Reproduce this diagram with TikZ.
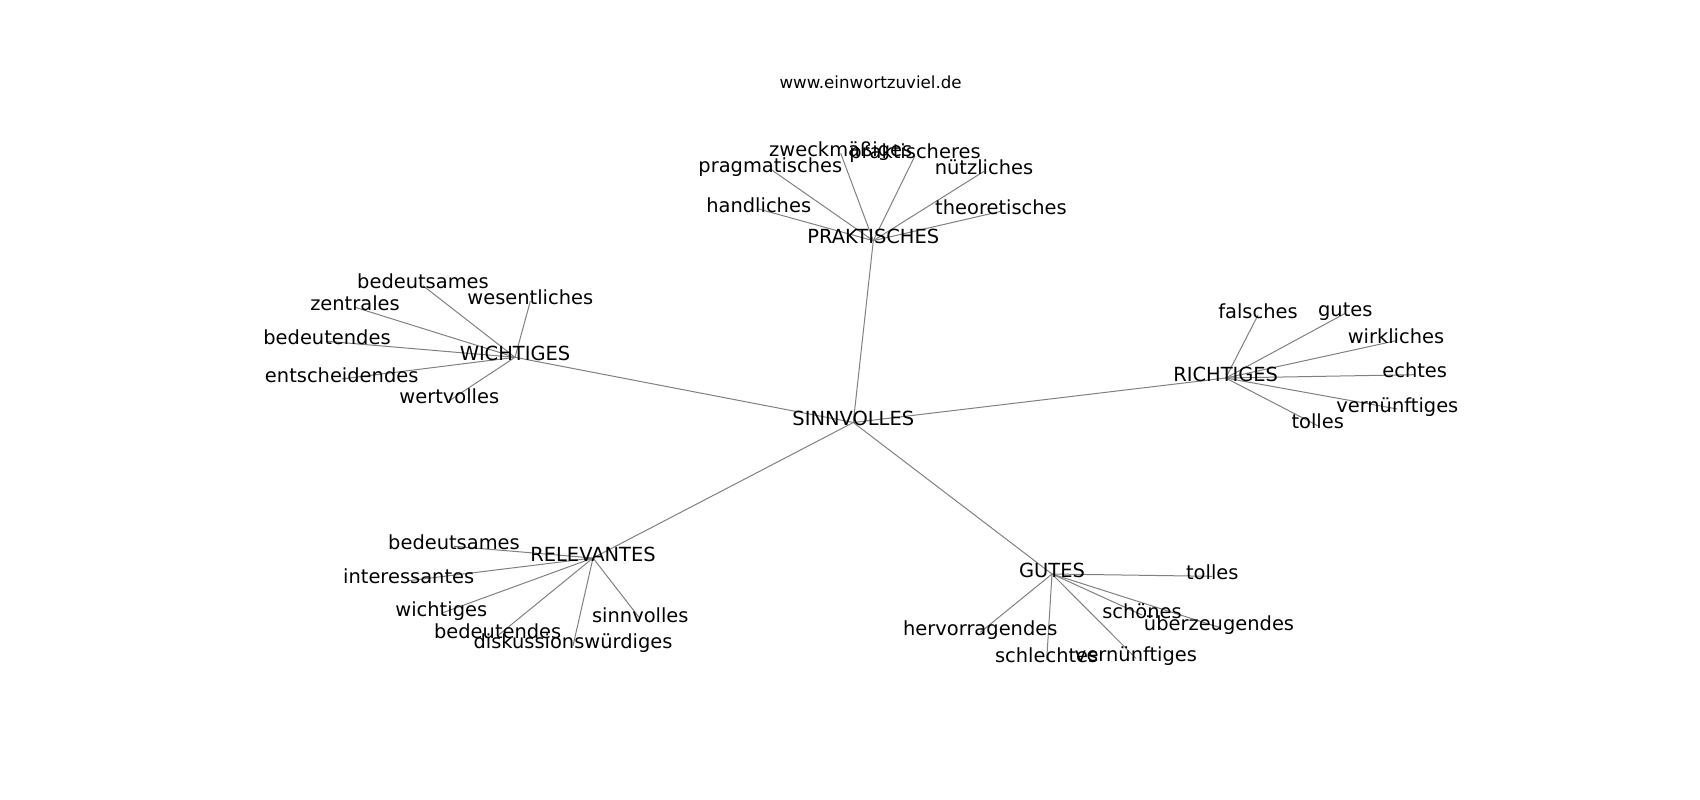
\documentclass[tikz,border=0pt]{standalone}
\usepackage{fontspec}
\setmainfont{DejaVu Sans}
\usepackage{tikz}
\pgfdeclarelayer{bg}
\pgfsetlayers{bg,main}

\begin{document}
\begin{tikzpicture}[x=1pt, y=-1pt,
    word/.style={inner sep=0pt, text height=6.2pt, text depth=0pt, font=\fontsize{19.44}{22}\selectfont},
    edge/.style={draw=black!50, line width=1pt}]
  \useasboundingbox (0,0) rectangle (1700,800);
  \node[inner sep=0pt, text height=12.2pt, text depth=0pt, font=\fontsize{16.67}{20}\selectfont] (title) at (870.6,82.4) {www.einwortzuviel.de};

  \node[word] (s) at (853.3,422.5) {SINNVOLLES};

  % praktisches
  \node[word] (p) at (873.3,240.7) {PRAKTISCHES};
  \node[word] (p1) at (840.7,153.3) {zweckmäßiges};
  \node[word] (p2) at (915,155.7) {praktischeres};
  \node[word] (p3) at (770.3,169) {pragmatisches};
  \node[word] (p4) at (984,171.3) {nützliches};
  \node[word] (p5) at (758.7,209) {handliches};
  \node[word] (p6) at (1001,211.3) {theoretisches};

  % wichtiges
  \node[word] (w) at (515,357.3) {WICHTIGES};
  \node[word] (w1) at (423,285.7) {bedeutsames};
  \node[word] (w2) at (530.3,301.3) {wesentliches};
  \node[word] (w3) at (355,307.3) {zentrales};
  \node[word] (w4) at (327,341.3) {bedeutendes};
  \node[word] (w5) at (341.7,379) {entscheidendes};
  \node[word] (w6) at (449.3,400.7) {wertvolles};

  % richtiges
  \node[word] (r) at (1225.7,378) {RICHTIGES};
  \node[word] (r1) at (1258,315) {falsches};
  \node[word] (r2) at (1345.3,313.3) {gutes};
  \node[word] (r3) at (1396,340.7) {wirkliches};
  \node[word] (r4) at (1414.7,374.7) {echtes};
  \node[word] (r5) at (1397.3,409) {vernünftiges};
  \node[word] (r6) at (1317.7,425.7) {tolles};

  % relevantes
  \node[word] (rel) at (593,558) {RELEVANTES};
  \node[word] (rel1) at (454,546.3) {bedeutsames};
  \node[word] (rel2) at (408.7,580.7) {interessantes};
  \node[word] (rel3) at (441.3,613.3) {wichtiges};
  \node[word] (rel4) at (640.3,619) {sinnvolles};
  \node[word] (rel5) at (497.7,635.7) {bedeutendes};
  \node[word] (rel6) at (573,645.7) {diskussionswürdiges};

  % gutes
  \node[word] (g) at (1052,574) {GUTES};
  \node[word] (g1) at (1212.3,576.3) {tolles};
  \node[word] (g2) at (1142,615) {schönes};
  \node[word] (g3) at (1219,627.3) {überzeugendes};
  \node[word] (g4) at (980.3,632.3) {hervorragendes};
  \node[word] (g5) at (1046.7,659.7) {schlechtes};
  \node[word] (g6) at (1136,658.3) {vernünftiges};

  \begin{pgfonlayer}{bg}
    \foreach \h in {p,w,r,rel,g}
      \draw[edge] (s.center) -- (\h.center);
    \foreach \h in {p,w,r,rel,g}{
      \foreach \i in {1,...,6}
        \draw[edge] (\h.center) -- (\h\i.center);
    };
  \end{pgfonlayer}
\end{tikzpicture}
\end{document}
